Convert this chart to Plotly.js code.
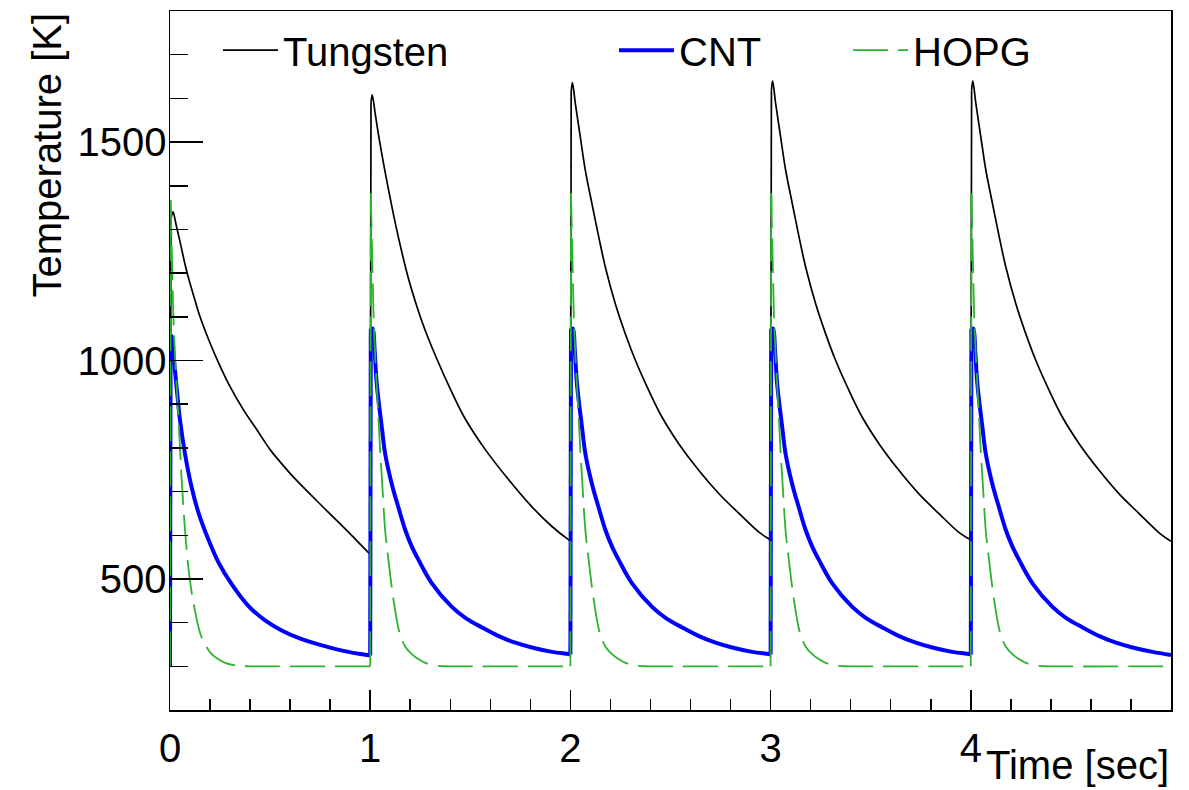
<!DOCTYPE html>
<html>
<head>
<meta charset="utf-8">
<script src="https://cdn.plot.ly/plotly-3.0.1.min.js"></script>
<style>
html,body{margin:0;padding:0;background:#fff;}
#chart{width:1189px;height:790px;}
</style>
</head>
<body>
<div id="chart"></div>
<script>
// ---- Data ----
const seriesNames = ["Tungsten", "CNT", "HOPG"];

const tungstenTime = [
  0, 0.005, 0.015, 0.03, 0.05, 0.083, 0.117, 0.15, 0.2, 0.25, 0.3, 0.367, 0.433, 0.5, 0.55, 0.617, 0.733, 0.817, 0.9, 0.99, 1.0,
  1.004, 1.01, 1.025, 1.042, 1.067, 1.092, 1.125, 1.158, 1.192, 1.258, 1.325, 1.408, 1.475, 1.575, 1.692, 1.808, 1.908, 1.99, 2.0,
  2.004, 2.01, 2.025, 2.05, 2.075, 2.108, 2.142, 2.175, 2.225, 2.275, 2.325, 2.392, 2.458, 2.542, 2.642, 2.742, 2.842, 2.942, 2.99, 3.0,
  3.004, 3.01, 3.025, 3.05, 3.075, 3.108, 3.142, 3.175, 3.225, 3.275, 3.325, 3.392, 3.458, 3.542, 3.642, 3.742, 3.842, 3.942, 3.99, 4.0,
  4.004, 4.01, 4.025, 4.05, 4.075, 4.108, 4.142, 4.175, 4.225, 4.275, 4.325, 4.392, 4.458, 4.542, 4.642, 4.742, 4.842, 4.942, 5.0
];
const tungstenTemp = [
  300, 1325, 1340, 1312, 1272, 1205, 1150, 1100, 1040, 987, 940, 887, 842, 796, 768, 733, 679, 641, 603, 561, 557,
  1590, 1608, 1565, 1515, 1450, 1390, 1315, 1248, 1186, 1090, 1012, 927, 866, 796, 727, 665, 620, 590, 587,
  1615, 1636, 1587, 1510, 1434, 1358, 1282, 1213, 1129, 1060, 1000, 931, 870, 809, 748, 695, 650, 607, 592, 589,
  1618, 1640, 1589, 1512, 1436, 1360, 1283, 1214, 1130, 1061, 1000, 931, 870, 809, 748, 694, 649, 606, 592, 589,
  1618, 1640, 1589, 1512, 1436, 1360, 1283, 1214, 1130, 1061, 1000, 931, 870, 809, 748, 694, 649, 605, 586
];

const cntTime = [
  0, 0.003, 0.012, 0.017, 0.033, 0.05, 0.075, 0.108, 0.142, 0.192, 0.242, 0.308, 0.392, 0.475, 0.558, 0.658, 0.75, 0.85, 0.95, 0.99, 1.0,
  1.003, 1.012, 1.022, 1.033, 1.058, 1.075, 1.108, 1.142, 1.175, 1.208, 1.242, 1.308, 1.408, 1.475, 1.558, 1.642, 1.725, 1.808, 1.908, 1.99, 2.0,
  2.003, 2.012, 2.022, 2.033, 2.058, 2.075, 2.108, 2.142, 2.175, 2.208, 2.242, 2.308, 2.408, 2.475, 2.558, 2.642, 2.725, 2.808, 2.908, 2.99, 3.0,
  3.003, 3.012, 3.022, 3.033, 3.058, 3.075, 3.108, 3.142, 3.175, 3.208, 3.242, 3.308, 3.408, 3.475, 3.558, 3.642, 3.725, 3.808, 3.908, 3.99, 4.0,
  4.003, 4.012, 4.022, 4.033, 4.058, 4.075, 4.108, 4.142, 4.175, 4.208, 4.242, 4.308, 4.408, 4.475, 4.558, 4.642, 4.725, 4.808, 4.908, 5.0
];
const cntTemp = [
  300, 1058, 1050, 1016, 939, 863, 786, 710, 652, 590, 538, 488, 438, 405, 382, 362, 349, 337, 328, 326, 325,
  1073, 1073, 1023, 945, 847, 786, 717, 662, 612, 574, 543, 490, 436, 411, 389, 369, 354, 343, 333, 328, 327,
  1073, 1073, 1023, 945, 847, 786, 717, 662, 612, 574, 543, 490, 436, 411, 389, 369, 354, 343, 333, 328, 327,
  1073, 1073, 1023, 945, 847, 786, 717, 662, 612, 574, 543, 490, 436, 411, 389, 369, 354, 343, 333, 328, 327,
  1073, 1073, 1023, 945, 847, 786, 717, 662, 612, 574, 543, 490, 436, 411, 389, 369, 354, 343, 333, 326
];

const hopgTime = [
  0, 0.003, 0.01, 0.017, 0.025, 0.033, 0.042, 0.05, 0.058, 0.075, 0.092, 0.108, 0.125, 0.142, 0.158, 0.175, 0.208, 0.242, 0.275, 0.342, 0.4, 0.99, 1.0,
  1.003, 1.01, 1.017, 1.025, 1.033, 1.042, 1.05, 1.058, 1.075, 1.092, 1.108, 1.125, 1.142, 1.158, 1.175, 1.208, 1.242, 1.275, 1.342, 1.4, 1.99, 2.0,
  2.003, 2.01, 2.017, 2.025, 2.033, 2.042, 2.05, 2.058, 2.075, 2.092, 2.108, 2.125, 2.142, 2.158, 2.175, 2.208, 2.242, 2.275, 2.342, 2.4, 2.99, 3.0,
  3.003, 3.01, 3.017, 3.025, 3.033, 3.042, 3.05, 3.058, 3.075, 3.092, 3.108, 3.125, 3.142, 3.158, 3.175, 3.208, 3.242, 3.275, 3.342, 3.4, 3.99, 4.0,
  4.003, 4.01, 4.017, 4.025, 4.033, 4.042, 4.05, 4.058, 4.075, 4.092, 4.108, 4.125, 4.142, 4.158, 4.175, 4.208, 4.242, 4.275, 4.342, 4.4, 5.0
];
const hopgTemp = [
  300, 1367, 1230, 1100, 1010, 945, 870, 800, 730, 612, 525, 470, 427, 390, 366, 350, 328, 316, 308, 301, 300, 300, 300,
  1383, 1240, 1100, 1010, 940, 862, 790, 733, 610, 540, 480, 427, 385, 362, 345, 328, 316, 308, 301, 300, 300, 300,
  1383, 1240, 1100, 1010, 940, 862, 790, 733, 610, 540, 480, 427, 385, 362, 345, 328, 316, 308, 301, 300, 300, 300,
  1383, 1240, 1100, 1010, 940, 862, 790, 733, 610, 540, 480, 427, 385, 362, 345, 328, 316, 308, 301, 300, 300, 300,
  1383, 1240, 1100, 1010, 940, 862, 790, 733, 610, 540, 480, 427, 385, 362, 345, 328, 316, 308, 301, 300, 300
];

const xTickVals = [0, 1, 2, 3, 4];
const xTickText = ["0", "1", "2", "3", "4"];
const yTickVals = [500, 1000, 1500];
const yTickText = ["500", "1000", "1500"];
const xTitle = "Time [sec]";
const yTitle = "Temperature [K]";

// ---- Chart ----
const FONT = '"Liberation Sans", Arial, Helvetica, sans-serif';
const FS = 40;
const GREEN = '#2db32d';

// Split each series into smooth cooling runs and the sharp heating jumps
function splitSeries(t, T) {
  const sx = [], sy = [], jx = [], jy = [];
  for (let i = 0; i < t.length; i++) {
    if (i > 0 && (t[i] - t[i - 1]) <= 0.0051 && Math.abs(T[i] - T[i - 1]) > 200) {
      sx.push(null); sy.push(null);
      jx.push(t[i - 1], t[i], null); jy.push(T[i - 1], T[i], null);
    }
    sx.push(t[i]); sy.push(T[i]);
  }
  return {sx, sy, jx, jy};
}

const specs = [
  {t: tungstenTime, T: tungstenTemp, name: seriesNames[0], line: {color: '#000000', width: 1.7}, legend: 'legend'},
  {t: cntTime, T: cntTemp, name: seriesNames[1], line: {color: '#0000ff', width: 4}, legend: 'legend2'},
  {t: hopgTime, T: hopgTemp, name: seriesNames[2], line: {color: GREEN, width: 1.8, dash: '35px,10px'}, legend: 'legend3'}
];

const traces = [];
specs.forEach(s => {
  const p = splitSeries(s.t, s.T);
  traces.push({x: p.jx, y: p.jy, type: 'scatter', mode: 'lines', name: s.name,
    legendgroup: s.name, showlegend: false, legend: s.legend,
    line: Object.assign({}, s.line, {shape: 'linear'})});
  traces.push({x: p.sx, y: p.sy, type: 'scatter', mode: 'lines', name: s.name,
    legendgroup: s.name, showlegend: true, legend: s.legend, connectgaps: false,
    line: Object.assign({}, s.line, {shape: 'spline', smoothing: 1})});
});

function legendBox(xp) {
  return {x: xp, y: 0.944, xanchor: 'left', yanchor: 'middle', orientation: 'h',
    bgcolor: 'rgba(0,0,0,0)', borderwidth: 0, itemwidth: 55,
    font: {family: FONT, size: FS, color: '#000'}};
}

const layout = {
  width: 1189, height: 790,
  margin: {l: 170, r: 18, t: 11, b: 80, pad: 0},
  paper_bgcolor: '#ffffff', plot_bgcolor: '#ffffff',
  font: {family: FONT, size: FS, color: '#000'},
  showlegend: true,
  legend: legendBox((218 - 170) / 1001),
  legend2: legendBox((614 - 170) / 1001),
  legend3: legendBox((848 - 170) / 1001),
  xaxis: {
    range: [0, 5], showgrid: false, zeroline: false,
    showline: true, linecolor: '#000', linewidth: 1.5, mirror: true,
    tickmode: 'array', tickvals: xTickVals, ticktext: xTickText,
    ticks: 'inside', ticklen: 20, tickwidth: 1.5, tickcolor: '#000',
    ticklabelstandoff: 2,
    tickfont: {family: FONT, size: FS, color: '#000'},
    minor: {dtick: 0.2, tick0: 0, ticks: 'inside', ticklen: 11, tickwidth: 1.5, tickcolor: '#000', showgrid: false}
  },
  yaxis: {
    range: [200, 1800], showgrid: false, zeroline: false,
    showline: true, linecolor: '#000', linewidth: 1.5, mirror: true,
    tickmode: 'array', tickvals: yTickVals, ticktext: yTickText,
    ticks: 'inside', ticklen: 33, tickwidth: 1.5, tickcolor: '#000',
    ticklabelstandoff: -6,
    tickfont: {family: FONT, size: FS, color: '#000'},
    minor: {dtick: 100, tick0: 0, ticks: 'inside', ticklen: 18, tickwidth: 1.5, tickcolor: '#000', showgrid: false}
  },
  annotations: [
    {text: yTitle, xref: 'paper', yref: 'paper', x: (46 - 170) / 1001, y: 1.0,
     xanchor: 'center', yanchor: 'top', textangle: -90, showarrow: false,
     font: {family: FONT, size: FS, color: '#000'}},
    {text: xTitle, xref: 'paper', yref: 'paper', x: 1.0, y: (710 - 765) / 699,
     xanchor: 'right', yanchor: 'middle', showarrow: false,
     font: {family: FONT, size: FS, color: '#000'}}
  ]
};

Plotly.newPlot('chart', traces, layout, {staticPlot: true, displayModeBar: false});
</script>
</body>
</html>
